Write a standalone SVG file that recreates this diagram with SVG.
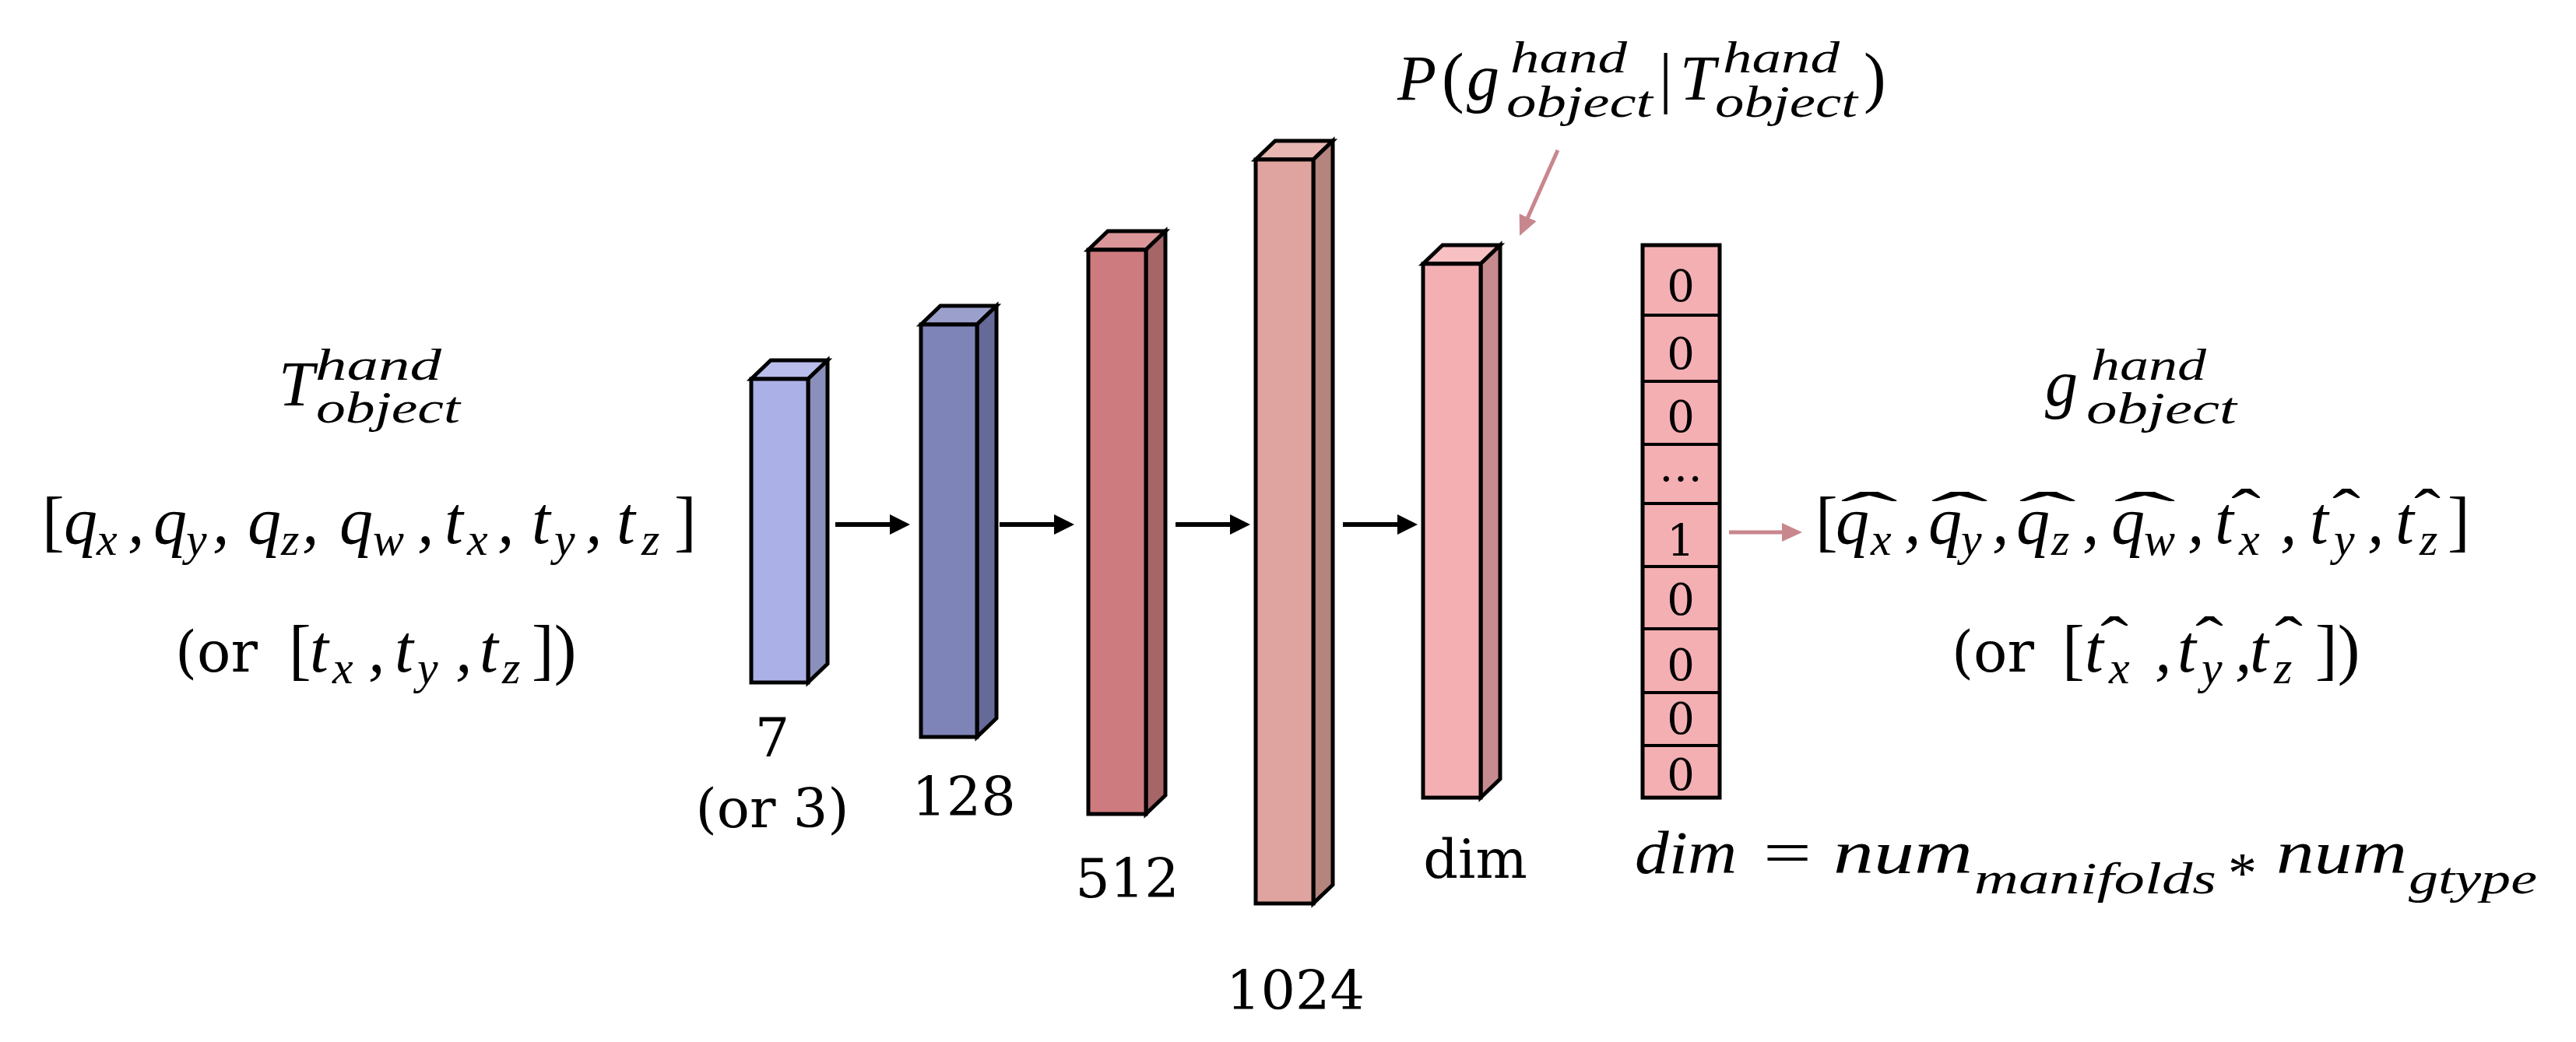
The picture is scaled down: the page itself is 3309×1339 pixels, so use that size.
<svg xmlns="http://www.w3.org/2000/svg" width="3309" height="1339" viewBox="0 0 3309 1339">
<defs>
<style>
.s{stroke:#000;stroke-width:5;stroke-linejoin:miter}
.mi{font-family:"Liberation Serif",serif;font-style:italic;fill:#000}
.up{font-family:"Liberation Serif",serif;fill:#000}
.br{font-style:normal;font-size:86px}
.sub{font-size:60px}
.hat{font-style:normal;font-size:80px}
.dv{font-family:"DejaVu Serif",serif;fill:#000}
.lbl{font-family:"DejaVu Serif",serif;font-size:70px;text-anchor:middle;fill:#000}
.cell{font-family:"DejaVu Serif",serif;font-size:56px;text-anchor:middle;fill:#000}
.blk{stroke:#000;stroke-width:6;fill:none}
.pnk{stroke:#c8878d;stroke-width:5;fill:none}
</style>
<marker id="ah" markerUnits="userSpaceOnUse" markerWidth="30" markerHeight="30" refX="4" refY="13" orient="auto"><path d="M0,0 L26,13 L0,26 z" fill="#000"/></marker>
<marker id="ahp" markerUnits="userSpaceOnUse" markerWidth="30" markerHeight="30" refX="4" refY="12" orient="auto"><path d="M0,0 L26,12 L0,24 z" fill="#c8878d"/></marker>
</defs>
<rect width="3309" height="1339" fill="#fff"/>

<!-- layer boxes -->
<g id="box7">
<path class="s" fill="#b9bdec" d="M965,487 L990,463 L1063,463 L1038,487 Z"/>
<path class="s" fill="#8b8fbb" d="M1038,487 L1063,463 L1063,853 L1038,877 Z"/>
<rect class="s" fill="#abb1e6" x="965" y="487" width="73" height="390"/>
<text class="lbl" x="992" y="972">7</text>
<text class="lbl" x="992" y="1063">(or 3)</text>
</g>
<g id="box128">
<path class="s" fill="#9a9fcb" d="M1183,417 L1208,393 L1280,393 L1255,417 Z"/>
<path class="s" fill="#656a99" d="M1255,417 L1280,393 L1280,923 L1255,947 Z"/>
<rect class="s" fill="#7e84b8" x="1183" y="417" width="72" height="530"/>
<text class="lbl" x="1238" y="1048">128</text>
</g>
<g id="box512">
<path class="s" fill="#da9698" d="M1398,321 L1423,297 L1497,297 L1472,321 Z"/>
<path class="s" fill="#a66567" d="M1472,321 L1497,297 L1497,1022 L1472,1046 Z"/>
<rect class="s" fill="#ce7b7f" x="1398" y="321" width="74" height="725"/>
<text class="lbl" x="1448" y="1153">512</text>
</g>
<g id="box1024">
<path class="s" fill="#e8b7b2" d="M1613,205 L1638,181 L1712,181 L1687,205 Z"/>
<path class="s" fill="#b4847e" d="M1687,205 L1712,181 L1712,1137 L1687,1161 Z"/>
<rect class="s" fill="#dfa49f" x="1613" y="205" width="74" height="956"/>
<text class="lbl" x="1664" y="1297">1024</text>
</g>
<g id="boxdim">
<path class="s" fill="#f7c0c2" d="M1828,339 L1853,315 L1927,315 L1902,339 Z"/>
<path class="s" fill="#c58b8f" d="M1902,339 L1927,315 L1927,1001 L1902,1025 Z"/>
<rect class="s" fill="#f4afb2" x="1828" y="339" width="74" height="686"/>
<text class="lbl" x="1895" y="1128">dim</text>
</g>

<!-- one-hot vector -->
<g id="onehot">
<rect x="2110" y="315" width="99" height="710" fill="#f4afb2" stroke="#000" stroke-width="5"/>
<g stroke="#000" stroke-width="4">
<line x1="2110" y1="405" x2="2209" y2="405"/>
<line x1="2110" y1="490" x2="2209" y2="490"/>
<line x1="2110" y1="571" x2="2209" y2="571"/>
<line x1="2110" y1="647" x2="2209" y2="647"/>
<line x1="2110" y1="728" x2="2209" y2="728"/>
<line x1="2110" y1="808" x2="2209" y2="808"/>
<line x1="2110" y1="890" x2="2209" y2="890"/>
<line x1="2110" y1="958" x2="2209" y2="958"/>
</g>
<text class="cell" x="2159" y="387">0</text>
<text class="cell" x="2159" y="474">0</text>
<text class="cell" x="2159" y="555">0</text>
<text class="cell" x="2159" y="618" font-size="46">…</text>
<text class="cell" x="2159" y="714">1</text>
<text class="cell" x="2159" y="790">0</text>
<text class="cell" x="2159" y="874">0</text>
<text class="cell" x="2159" y="943">0</text>
<text class="cell" x="2159" y="1015">0</text>
</g>

<!-- input description -->
<g id="input">
<text class="mi" font-size="82" x="358" y="521">T</text>
<text class="mi" font-size="58" x="405" y="488" textLength="162" lengthAdjust="spacingAndGlyphs">hand</text>
<text class="mi" font-size="58" x="406" y="543" textLength="185" lengthAdjust="spacingAndGlyphs">object</text>
<text class="mi" font-size="86" y="698"><tspan class="br" x="54">[</tspan><tspan x="82">q</tspan><tspan class="sub" x="124" y="713">x</tspan><tspan x="164" y="698">,</tspan><tspan x="197">q</tspan><tspan class="sub" x="239" y="713">y</tspan><tspan x="273" y="698">,</tspan><tspan x="318">q</tspan><tspan class="sub" x="361" y="713">z</tspan><tspan x="388" y="698">,</tspan><tspan x="436">q</tspan><tspan class="sub" x="479" y="713">w</tspan><tspan x="536" y="698">,</tspan><tspan x="571">t</tspan><tspan class="sub" x="600" y="713">x</tspan><tspan x="639" y="698">,</tspan><tspan x="683">t</tspan><tspan class="sub" x="712" y="713">y</tspan><tspan x="752" y="698">,</tspan><tspan x="792">t</tspan><tspan class="sub" x="824" y="713">z</tspan><tspan class="br" x="866" y="698">]</tspan></text>
<text class="dv" font-size="72" x="225" y="863">(or</text>
<text class="mi" font-size="86" y="863"><tspan class="br" x="371">[</tspan><tspan x="398">t</tspan><tspan class="sub" x="427" y="878">x</tspan><tspan x="473" y="863">,</tspan><tspan x="507">t</tspan><tspan class="sub" x="536" y="878">y</tspan><tspan x="585" y="863">,</tspan><tspan x="616">t</tspan><tspan class="sub" x="645" y="878">z</tspan><tspan class="br" x="683" y="863">])</tspan></text>
</g>

<!-- top probability label -->
<g id="prob">
<text class="mi" font-size="82" x="1795" y="128">P</text>
<text class="up" font-size="86" x="1852" y="128">(</text>
<text class="mi" font-size="84" x="1884" y="128">g</text>
<text class="mi" font-size="58" x="1940" y="93" textLength="150" lengthAdjust="spacingAndGlyphs">hand</text>
<text class="mi" font-size="58" x="1935" y="150" textLength="188" lengthAdjust="spacingAndGlyphs">object</text>
<text class="up" font-size="86" x="2131" y="128">|</text>
<text class="mi" font-size="82" x="2158" y="128">T</text>
<text class="mi" font-size="58" x="2213" y="93" textLength="150" lengthAdjust="spacingAndGlyphs">hand</text>
<text class="mi" font-size="58" x="2203" y="150" textLength="183" lengthAdjust="spacingAndGlyphs">object</text>
<text class="up" font-size="86" x="2394" y="128">)</text>
</g>

<!-- output description -->
<g id="output">
<text class="mi" font-size="84" x="2627" y="521">g</text>
<text class="mi" font-size="58" x="2686" y="488" textLength="148" lengthAdjust="spacingAndGlyphs">hand</text>
<text class="mi" font-size="58" x="2680" y="544" textLength="193" lengthAdjust="spacingAndGlyphs">object</text>
<text class="mi" font-size="86" y="698"><tspan class="br" x="2332">[</tspan><tspan x="2358">q</tspan><tspan class="sub" x="2403" y="713">x</tspan><tspan x="2446" y="698">,</tspan><tspan x="2477">q</tspan><tspan class="sub" x="2519" y="713">y</tspan><tspan x="2559" y="698">,</tspan><tspan x="2590">q</tspan><tspan class="sub" x="2635" y="713">z</tspan><tspan x="2675" y="698">,</tspan><tspan x="2712">q</tspan><tspan class="sub" x="2754" y="713">w</tspan><tspan x="2810" y="698">,</tspan><tspan x="2845">t</tspan><tspan class="sub" x="2876" y="713">x</tspan><tspan x="2929" y="698">,</tspan><tspan x="2967">t</tspan><tspan class="sub" x="2998" y="713">y</tspan><tspan x="3041" y="698">,</tspan><tspan x="3077">t</tspan><tspan class="sub" x="3108" y="713">z</tspan><tspan class="br" x="3144" y="698">]</tspan><tspan class="hat" x="2364" y="688" textLength="74" lengthAdjust="spacingAndGlyphs">ˆ</tspan><tspan class="hat" x="2480" y="688" textLength="74" lengthAdjust="spacingAndGlyphs">ˆ</tspan><tspan class="hat" x="2593" y="688" textLength="74" lengthAdjust="spacingAndGlyphs">ˆ</tspan><tspan class="hat" x="2715" y="688" textLength="80" lengthAdjust="spacingAndGlyphs">ˆ</tspan><tspan class="hat" x="2866" y="684" textLength="38" lengthAdjust="spacingAndGlyphs">ˆ</tspan><tspan class="hat" x="2996" y="684" textLength="36" lengthAdjust="spacingAndGlyphs">ˆ</tspan><tspan class="hat" x="3101" y="684" textLength="34" lengthAdjust="spacingAndGlyphs">ˆ</tspan></text>
<text class="dv" font-size="72" x="2507" y="863">(or</text>
<text class="mi" font-size="86" y="863"><tspan class="br" x="2649">[</tspan><tspan x="2678">t</tspan><tspan class="sub" x="2709" y="878">x</tspan><tspan x="2768" y="863">,</tspan><tspan x="2797">t</tspan><tspan class="sub" x="2828" y="878">y</tspan><tspan x="2871" y="863">,</tspan><tspan x="2890">t</tspan><tspan class="sub" x="2921" y="878">z</tspan><tspan class="br" x="2974" y="863">])</tspan><tspan class="hat" x="2698" y="848" textLength="36" lengthAdjust="spacingAndGlyphs">ˆ</tspan><tspan class="hat" x="2820" y="848" textLength="36" lengthAdjust="spacingAndGlyphs">ˆ</tspan><tspan class="hat" x="2922" y="848" textLength="36" lengthAdjust="spacingAndGlyphs">ˆ</tspan></text>
</g>

<!-- dim formula -->
<g id="dimformula">
<text class="mi" font-size="78" x="2100" y="1122" textLength="131" lengthAdjust="spacingAndGlyphs">dim</text>
<text class="up" font-size="78" x="2265" y="1122" textLength="62" lengthAdjust="spacingAndGlyphs">=</text>
<text class="mi" font-size="78" x="2355" y="1122" textLength="179" lengthAdjust="spacingAndGlyphs">num</text>
<text class="mi" font-size="58" x="2536" y="1148" textLength="311" lengthAdjust="spacingAndGlyphs">manifolds</text>
<text class="up" font-size="74" x="2862" y="1147">*</text>
<text class="mi" font-size="78" x="2924" y="1122" textLength="168" lengthAdjust="spacingAndGlyphs">num</text>
<text class="mi" font-size="58" x="3094" y="1148" textLength="165" lengthAdjust="spacingAndGlyphs">gtype</text>
</g>

<!-- connectors -->
<g id="connectors">
<line class="blk" x1="1073" y1="674" x2="1147" y2="674" marker-end="url(#ah)"/>
<line class="blk" x1="1284" y1="674" x2="1358" y2="674" marker-end="url(#ah)"/>
<line class="blk" x1="1510" y1="674" x2="1584" y2="674" marker-end="url(#ah)"/>
<line class="blk" x1="1725" y1="674" x2="1799" y2="674" marker-end="url(#ah)"/>
<line class="pnk" x1="2221" y1="684" x2="2293" y2="684" marker-end="url(#ahp)"/>
<line class="pnk" x1="2001" y1="193" x2="1961" y2="283" marker-end="url(#ahp)"/>
</g>
</svg>
